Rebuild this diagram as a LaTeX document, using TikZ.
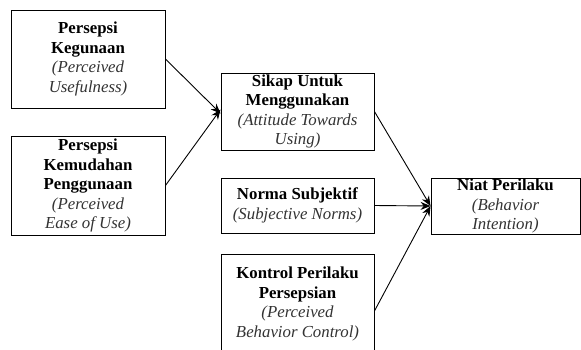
\documentclass[tikz,border=0pt]{standalone}
\usepackage{fontspec}
\setmainfont{Liberation Serif}
\usetikzlibrary{arrows.meta}
\begin{document}
\begin{tikzpicture}[x=1pt,y=-1pt,
  box/.style={draw=black,line width=0.9pt,inner sep=0pt,align=center,
    font=\fontsize{16.8}{19.5}\selectfont},
  arr/.style={-{Stealth[length=10pt,width=8pt]},line width=0.9pt}]
\useasboundingbox (0,0) rectangle (581,349);
\clip (0,0) rectangle (581,349);
\fill[white] (0,0) rectangle (581,349);
\newcommand{\ital}[1]{\textcolor{black!80}{\itshape #1}}
\node[box,minimum width=154pt,minimum height=98pt] (pk) at (88,59)
  {\textbf{Persepsi}\\\textbf{Kegunaan}\\\ital{(Perceived}\\\ital{Usefulness)}};
\node[box,minimum width=154pt,minimum height=99pt] (pke) at (88,185.5)
  {\textbf{Persepsi}\\\textbf{Kemudahan}\\\textbf{Penggunaan}\\\ital{(Perceived}\\\ital{Ease of Use)}};
\node[box,minimum width=153pt,minimum height=77pt] (sk) at (297.5,111.5)
  {\textbf{Sikap Untuk}\\\textbf{Menggunakan}\\\ital{(Attitude Towards}\\\ital{Using)}};
\node[box,minimum width=153pt,minimum height=55pt] (ns) at (297.5,205.5)
  {\textbf{Norma Subjektif}\\\ital{(Subjective Norms)}};
\node[box,minimum width=153pt,minimum height=100pt] (kp) at (297.5,304)
  {\textbf{Kontrol Perilaku}\\\textbf{Persepsian}\\\ital{(Perceived}\\\ital{Behavior Control)}};
\node[box,minimum width=149pt,minimum height=56pt] (np) at (505.5,206)
  {\textbf{Niat Perilaku}\\\ital{(Behavior}\\\ital{Intention)}};
\draw[arr] (pk.east) -- ([yshift=-2pt]sk.west);
\draw[arr] (pke.east) -- ([yshift=2pt]sk.west);
\draw[arr] (sk.east) -- (np.west);
\draw[arr] (ns.east) -- (np.west);
\draw[arr] ([yshift=-7pt]kp.east) -- (np.west);
\end{tikzpicture}
\end{document}
